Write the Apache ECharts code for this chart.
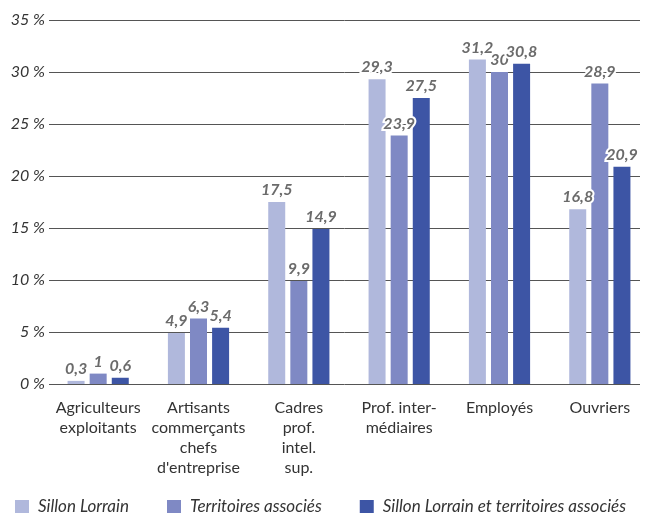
<!DOCTYPE html>
<html><head><meta charset="utf-8">
<script src="https://cdn.jsdelivr.net/npm/echarts@6/dist/echarts.min.js"></script>
<style>html,body{margin:0;padding:0;background:#fff}#c{width:650px;height:523px}</style>
</head><body><div id="c"></div>
<script>
const categories = ["Agriculteurs\nexploitants", "Artisants\ncommerçants\nchefs\nd'entreprise", "Cadres\nprof.\nintel.\nsup.", "Prof. inter-\nmédiaires", "Employés", "Ouvriers"];
const seriesNames = ["Sillon Lorrain", "Territoires associés", "Sillon Lorrain et territoires associés"];
const sillon = [0.3, 4.9, 17.5, 29.3, 31.2, 16.8];
const territoires = [1, 6.3, 9.9, 23.9, 30, 28.9];
const ensemble = [0.6, 5.4, 14.9, 27.5, 30.8, 20.9];
const yTicks = [0, 5, 10, 15, 20, 25, 30, 35];
const colors = ["#b0b8dc", "#7f89c4", "#3d55a5"];
const FONT = "Lato";

const chart = echarts.init(document.getElementById('c'));
const mk = (name, data, color) => ({
  name, type: 'bar', data, barWidth: 17, barGap: '30%',
  xAxisIndex: 0, yAxisIndex: 0,
  itemStyle: { color },
  label: {
    show: true, position: 'top', distance: 4,
    formatter: p => String(p.value).replace('.', ','),
    fontFamily: FONT, fontStyle: 'italic', fontWeight: 'bold', fontSize: 16,
    color: '#6b6b6b', textBorderColor: '#fff', textBorderWidth: 4
  }
});
const yMin = yTicks[0], yMax = yTicks[yTicks.length - 1];
chart.setOption({
  animation: false,
  textStyle: { fontFamily: FONT },
  grid: [
    { left: 48, right: -4, top: 20, bottom: 139, containLabel: false, z: 2 },
    { left: 49, right: 10, top: 20, bottom: 139, containLabel: false, z: 0 }
  ],
  legend: {
    bottom: 3, left: 10, itemWidth: 14, itemHeight: 13, itemGap: 38,
    icon: 'rect',
    textStyle: { fontFamily: FONT, fontStyle: 'italic', fontSize: 17, color: '#333', padding: [0, 0, 0, 4] },
    data: seriesNames
  },
  xAxis: [{
    type: 'category', data: categories, gridIndex: 0,
    axisLine: { show: false }, axisTick: { show: false },
    axisLabel: { fontFamily: FONT, fontSize: 16, color: '#333', lineHeight: 20, margin: 14, interval: 0 }
  }, {
    type: 'category', data: categories, gridIndex: 1, show: false
  }],
  yAxis: [{
    type: 'value', gridIndex: 0, min: yMin, max: yMax, interval: 5, show: false,
    splitLine: { show: false }
  }, {
    type: 'value', gridIndex: 1, min: yMin, max: yMax, interval: 5, z: 0,
    axisLine: { show: false }, axisTick: { show: false },
    splitLine: { lineStyle: { color: '#555', width: 1 } },
    axisLabel: { formatter: '{value} %', fontFamily: FONT, fontStyle: 'italic', fontSize: 16, color: '#333', margin: 4 }
  }],
  series: [mk(seriesNames[0], sillon, colors[0]), mk(seriesNames[1], territoires, colors[1]), mk(seriesNames[2], ensemble, colors[2])]
});
</script></body></html>
